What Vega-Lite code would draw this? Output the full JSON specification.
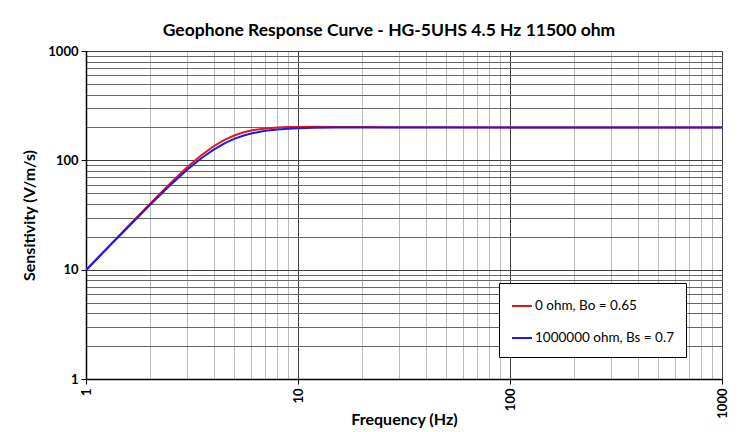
{
  "$schema": "https://vega.github.io/schema/vega-lite/v6.json",
  "autosize": {"type": "none"},
  "width": 636,
  "height": 328,
  "padding": {"left": 86, "top": 51, "right": 24, "bottom": 53},
  "background": "#ffffff",
  "title": {
    "text": "Geophone Response Curve - HG-5UHS  4.5 Hz 11500 ohm",
    "font": "Lato",
    "fontSize": 17.5,
    "fontWeight": "bold",
    "color": "#000000",
    "anchor": "middle",
    "dx": -15,
    "offset": 6
  },
  "data": {
    "values": [
      {"f": 1, "s": 9.94, "series": "0 ohm, Bo = 0.65"},
      {"f": 1.25, "s": 15.57, "series": "0 ohm, Bo = 0.65"},
      {"f": 1.5, "s": 22.47, "series": "0 ohm, Bo = 0.65"},
      {"f": 2, "s": 39.95, "series": "0 ohm, Bo = 0.65"},
      {"f": 2.5, "s": 61.74, "series": "0 ohm, Bo = 0.65"},
      {"f": 3, "s": 86.35, "series": "0 ohm, Bo = 0.65"},
      {"f": 3.5, "s": 111.45, "series": "0 ohm, Bo = 0.65"},
      {"f": 4, "s": 134.55, "series": "0 ohm, Bo = 0.65"},
      {"f": 4.5, "s": 153.85, "series": "0 ohm, Bo = 0.65"},
      {"f": 5, "s": 168.73, "series": "0 ohm, Bo = 0.65"},
      {"f": 5.5, "s": 179.56, "series": "0 ohm, Bo = 0.65"},
      {"f": 6, "s": 187.15, "series": "0 ohm, Bo = 0.65"},
      {"f": 7, "s": 195.86, "series": "0 ohm, Bo = 0.65"},
      {"f": 8, "s": 199.8, "series": "0 ohm, Bo = 0.65"},
      {"f": 9, "s": 201.52, "series": "0 ohm, Bo = 0.65"},
      {"f": 10, "s": 202.21, "series": "0 ohm, Bo = 0.65"},
      {"f": 12, "s": 202.43, "series": "0 ohm, Bo = 0.65"},
      {"f": 15, "s": 202.01, "series": "0 ohm, Bo = 0.65"},
      {"f": 20, "s": 201.33, "series": "0 ohm, Bo = 0.65"},
      {"f": 30, "s": 200.65, "series": "0 ohm, Bo = 0.65"},
      {"f": 50, "s": 200.25, "series": "0 ohm, Bo = 0.65"},
      {"f": 100, "s": 200.06, "series": "0 ohm, Bo = 0.65"},
      {"f": 200, "s": 200.02, "series": "0 ohm, Bo = 0.65"},
      {"f": 500, "s": 200.0, "series": "0 ohm, Bo = 0.65"},
      {"f": 1000, "s": 200.0, "series": "0 ohm, Bo = 0.65"},
      {"f": 1, "s": 9.87, "series": "1000000 ohm, Bs = 0.7"},
      {"f": 1.25, "s": 15.41, "series": "1000000 ohm, Bs = 0.7"},
      {"f": 1.5, "s": 22.14, "series": "1000000 ohm, Bs = 0.7"},
      {"f": 2, "s": 38.91, "series": "1000000 ohm, Bs = 0.7"},
      {"f": 2.5, "s": 59.32, "series": "1000000 ohm, Bs = 0.7"},
      {"f": 3, "s": 81.84, "series": "1000000 ohm, Bs = 0.7"},
      {"f": 3.5, "s": 104.45, "series": "1000000 ohm, Bs = 0.7"},
      {"f": 4, "s": 125.22, "series": "1000000 ohm, Bs = 0.7"},
      {"f": 4.5, "s": 142.86, "series": "1000000 ohm, Bs = 0.7"},
      {"f": 5, "s": 156.96, "series": "1000000 ohm, Bs = 0.7"},
      {"f": 5.5, "s": 167.76, "series": "1000000 ohm, Bs = 0.7"},
      {"f": 6, "s": 175.83, "series": "1000000 ohm, Bs = 0.7"},
      {"f": 7, "s": 186.16, "series": "1000000 ohm, Bs = 0.7"},
      {"f": 8, "s": 191.79, "series": "1000000 ohm, Bs = 0.7"},
      {"f": 9, "s": 194.95, "series": "1000000 ohm, Bs = 0.7"},
      {"f": 10, "s": 196.79, "series": "1000000 ohm, Bs = 0.7"},
      {"f": 12, "s": 198.6, "series": "1000000 ohm, Bs = 0.7"},
      {"f": 15, "s": 199.55, "series": "1000000 ohm, Bs = 0.7"},
      {"f": 20, "s": 199.94, "series": "1000000 ohm, Bs = 0.7"},
      {"f": 30, "s": 200.04, "series": "1000000 ohm, Bs = 0.7"},
      {"f": 50, "s": 200.03, "series": "1000000 ohm, Bs = 0.7"},
      {"f": 100, "s": 200.01, "series": "1000000 ohm, Bs = 0.7"},
      {"f": 200, "s": 200.0, "series": "1000000 ohm, Bs = 0.7"},
      {"f": 500, "s": 200.0, "series": "1000000 ohm, Bs = 0.7"},
      {"f": 1000, "s": 200.0, "series": "1000000 ohm, Bs = 0.7"}
    ]
  },
  "mark": {"type": "line", "strokeWidth": 2, "clip": true},
  "encoding": {
    "x": {
      "field": "f",
      "type": "quantitative",
      "scale": {"type": "log", "domain": [1, 1000], "nice": false},
      "axis": {
        "title": "Frequency (Hz)",
        "titleFont": "Lato",
        "titleFontSize": 16,
        "titleFontWeight": "bold",
        "titleColor": "#000000",
        "titleY": 32,
        "titleBaseline": "top",
        "values": [1,2,3,4,5,6,7,8,9,10,20,30,40,50,60,70,80,90,100,200,300,400,500,600,700,800,900,1000],
        "labelExpr": "(datum.value == 1 || datum.value == 10 || datum.value == 100 || datum.value == 1000) ? format(datum.value, 'd') : ''",
        "labelAngle": -90,
        "labelFont": "Lato",
        "labelFontSize": 13,
        "labelFontWeight": "bold",
        "labelColor": "#000000",
        "labelOverlap": false,
        "labelFlush": false,
        "labelPadding": 4,
        "tickColor": "#000000",
        "tickSize": 5,
        "tickOpacity": {"condition": {"test": "datum.value == 1 || datum.value == 10 || datum.value == 100 || datum.value == 1000", "value": 1}, "value": 0},
        "domainColor": "#000000",
        "domainWidth": 1.5,
        "grid": true,
        "gridColor": {"condition": {"test": "datum.value == 1 || datum.value == 10 || datum.value == 100 || datum.value == 1000", "value": "#404040"}, "value": "#bcbcbc"},
        "gridWidth": 1
      }
    },
    "y": {
      "field": "s",
      "type": "quantitative",
      "scale": {"type": "log", "domain": [1, 1000], "nice": false},
      "axis": {
        "title": "Sensitivity (V/m/s)",
        "titleFont": "Lato",
        "titleFontSize": 16,
        "titleFontWeight": "bold",
        "titleColor": "#000000",
        "titlePadding": 10,
        "values": [1,2,3,4,5,6,7,8,9,10,20,30,40,50,60,70,80,90,100,200,300,400,500,600,700,800,900,1000],
        "labelExpr": "(datum.value == 1 || datum.value == 10 || datum.value == 100 || datum.value == 1000) ? format(datum.value, 'd') : ''",
        "labelFont": "Lato",
        "labelFontSize": 13,
        "labelFontWeight": "bold",
        "labelColor": "#000000",
        "labelOverlap": false,
        "labelFlush": false,
        "labelPadding": 3,
        "tickColor": "#000000",
        "tickSize": 5,
        "tickOpacity": {"condition": {"test": "datum.value == 1 || datum.value == 10 || datum.value == 100 || datum.value == 1000", "value": 1}, "value": 0},
        "domainColor": "#000000",
        "domainWidth": 1.5,
        "grid": true,
        "gridColor": {"condition": {"test": "datum.value == 1 || datum.value == 10 || datum.value == 100 || datum.value == 1000", "value": "#404040"}, "value": "#666666"},
        "gridWidth": 1
      }
    },
    "color": {
      "field": "series",
      "type": "nominal",
      "scale": {
        "domain": ["0 ohm, Bo = 0.65", "1000000 ohm, Bs = 0.7"],
        "range": ["#e8141c", "#1a1aee"]
      },
      "legend": {
        "title": null,
        "orient": "none",
        "legendX": 413,
        "legendY": 232,
        "direction": "vertical",
        "fillColor": "#ffffff",
        "strokeColor": "#000000",
        "padding": 12,
        "cornerRadius": 0,
        "symbolType": "stroke",
        "symbolSize": 400,
        "symbolStrokeWidth": 2,
        "labelOffset": 2,
        "labelFont": "Lato",
        "labelFontSize": 13.5,
        "labelColor": "#000000",
        "rowPadding": 14
      }
    }
  },
  "config": {
    "view": {"stroke": null}
  }
}
